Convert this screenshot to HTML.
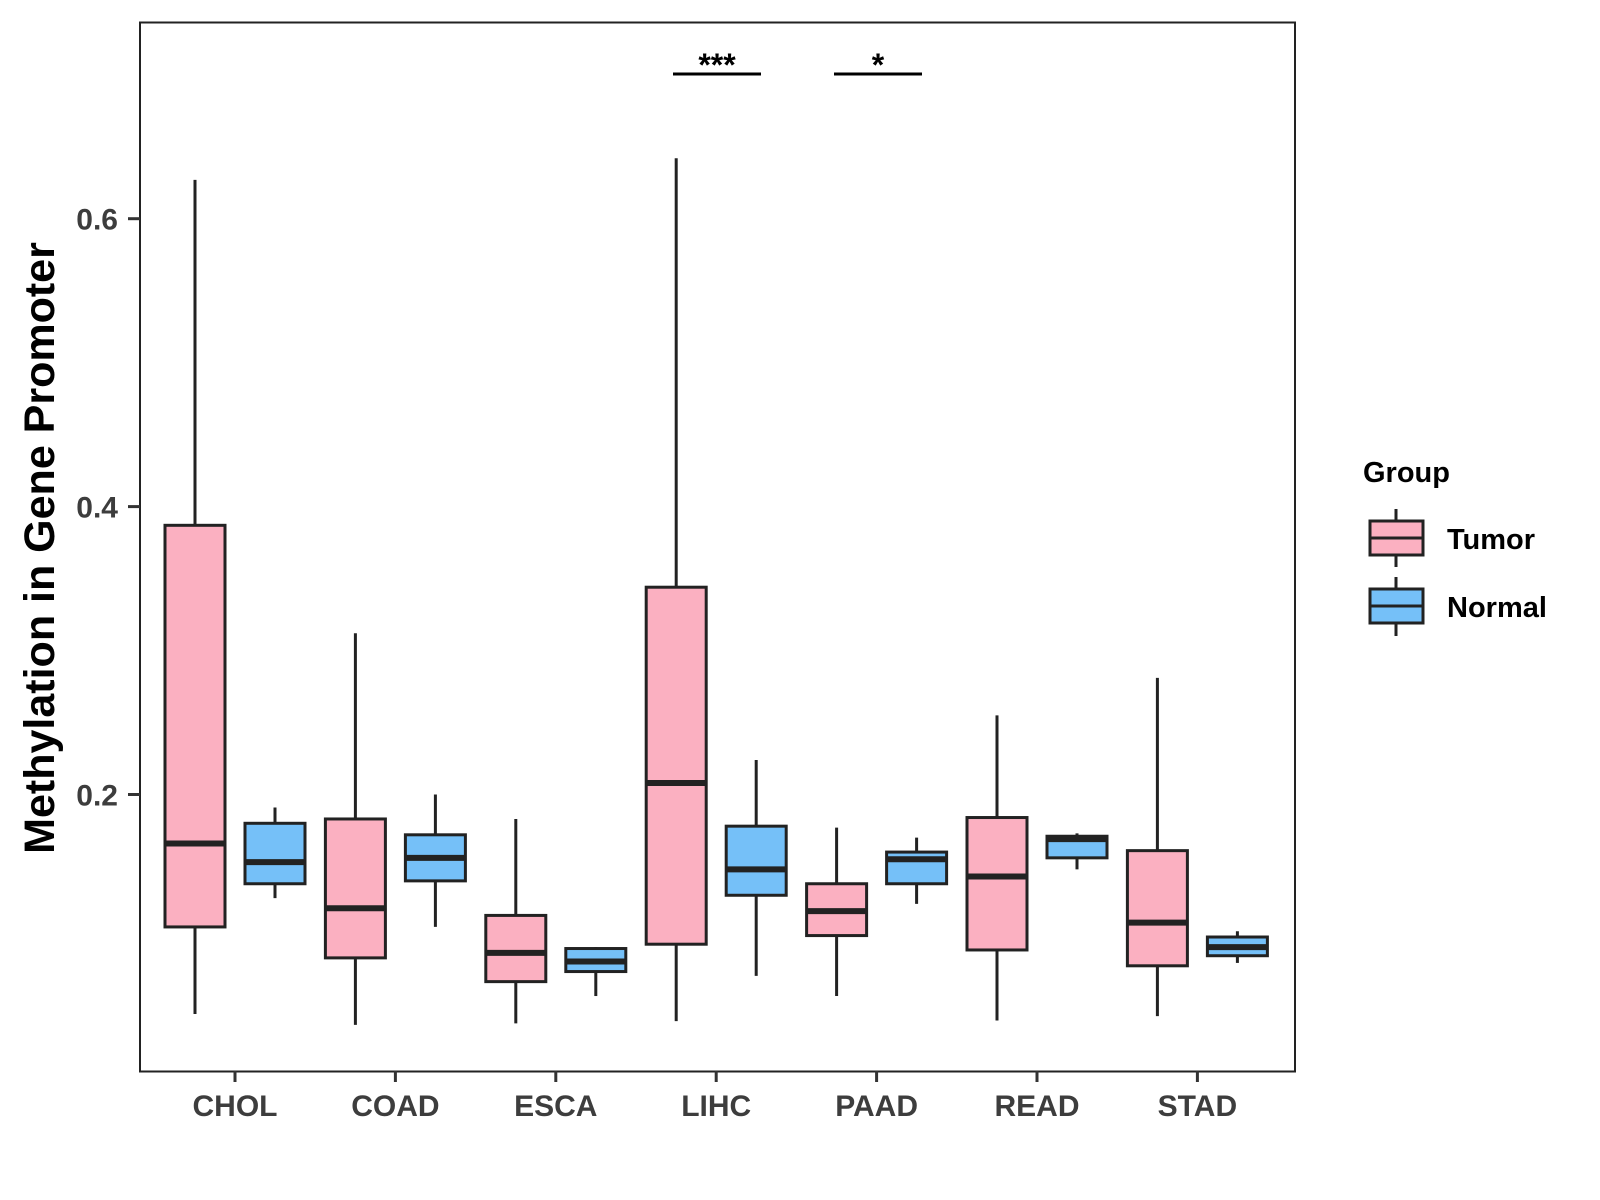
<!DOCTYPE html>
<html><head><meta charset="utf-8"><style>
html,body{margin:0;padding:0;background:#fff;}
svg{display:block;font-family:"Liberation Sans",sans-serif;}
</style></head><body>
<svg id="chart" width="1600" height="1200">
<rect x="140" y="22.5" width="1155" height="1049" fill="#fff" stroke="#222" stroke-width="2"/>
<g id="marks"></g>
<g id="axes"></g>
<text transform="translate(54,548) rotate(-90)" text-anchor="middle" font-size="43" font-weight="bold" fill="#000">Methylation in Gene Promoter</text>
<g>
<line x1="673" x2="761" y1="74" y2="74" stroke="#000" stroke-width="3"/>
<text x="717" y="76" text-anchor="middle" font-size="32" font-weight="bold">***</text>
</g>
<g>
<line x1="834" x2="922" y1="74" y2="74" stroke="#000" stroke-width="3"/>
<text x="878" y="76" text-anchor="middle" font-size="32" font-weight="bold">*</text>
</g>
<g>
<text x="1363" y="482" font-size="29" font-weight="bold">Group</text>
<g>
<line x1="1396" x2="1396" y1="509" y2="567" stroke="#222" stroke-width="3"/>
<rect x="1370" y="521" width="53" height="34" fill="#fbb0c1" stroke="#222" stroke-width="3"/>
<line x1="1370" x2="1423" y1="538" y2="538" stroke="#222" stroke-width="3"/>
<text x="1447" y="549" font-size="29" font-weight="bold">Tumor</text>
</g>
<g>
<line x1="1396" x2="1396" y1="577" y2="636" stroke="#222" stroke-width="3"/>
<rect x="1370" y="589" width="53" height="34" fill="#75c0f8" stroke="#222" stroke-width="3"/>
<line x1="1370" x2="1423" y1="606" y2="606" stroke="#222" stroke-width="3"/>
<text x="1447" y="617" font-size="29" font-weight="bold">Normal</text>
</g>
</g>
</svg>
<script>
const categories = ["CHOL","COAD","ESCA","LIHC","PAAD","READ","STAD"];
// [lowWhisker, Q1, median, Q3, highWhisker]
const tumorStats = [
 [0.0475,0.108,0.166,0.387,0.627],
 [0.040,0.0865,0.121,0.183,0.312],
 [0.041,0.070,0.090,0.116,0.183],
 [0.0426,0.096,0.208,0.344,0.642],
 [0.060,0.102,0.119,0.138,0.177],
 [0.043,0.092,0.143,0.184,0.255],
 [0.046,0.081,0.111,0.161,0.281]
];
const normalStats = [
 [0.128,0.138,0.153,0.180,0.191],
 [0.108,0.140,0.156,0.172,0.200],
 [0.060,0.077,0.084,0.093,0.094],
 [0.074,0.130,0.148,0.178,0.224],
 [0.124,0.138,0.155,0.160,0.170],
 [0.148,0.156,0.169,0.171,0.173],
 [0.083,0.088,0.094,0.101,0.105]
];
const yTicks = [0.2,0.4,0.6];
const yTickLabels = ["0.2","0.4","0.6"];

const NS="http://www.w3.org/2000/svg";
function y(v){return 794.5-(v-0.2)*1439.5;}
function x(i){return 235+i*160.4;}
function mk(tag,attrs,parent){const e=document.createElementNS(NS,tag);for(const k in attrs)e.setAttribute(k,attrs[k]);parent.appendChild(e);return e;}
const marks=document.getElementById('marks'), axes=document.getElementById('axes');
function drawBox(s,cx,fill,name){
  const g=mk('g',{},marks);
  
  
  const w=60;
  mk('line',{x1:cx,x2:cx,y1:y(s[0]),y2:y(s[4]),stroke:'#222','stroke-width':3},g);
  mk('rect',{x:cx-w/2,y:y(s[3]),width:w,height:y(s[1])-y(s[3]),fill:fill,stroke:'#222','stroke-width':3},g);
  mk('line',{x1:cx-w/2,x2:cx+w/2,y1:y(s[2]),y2:y(s[2]),stroke:'#222','stroke-width':6},g);
}
categories.forEach((c,i)=>{
  drawBox(tumorStats[i],x(i)-40,'#fbb0c1','box-tumor-'+c.toLowerCase());
  drawBox(normalStats[i],x(i)+40,'#75c0f8','box-normal-'+c.toLowerCase());
  mk('line',{x1:x(i),x2:x(i),y1:1071,y2:1082,stroke:'#333','stroke-width':3},axes);
  const t=mk('text',{x:x(i),y:1116,'text-anchor':'middle','font-size':30,'font-weight':'bold',fill:'#3d3d3d'},axes);
  
  
  t.textContent=c;
});
yTicks.forEach((v,i)=>{
  mk('line',{x1:128,x2:140,y1:y(v),y2:y(v),stroke:'#333','stroke-width':3},axes);
  const t=mk('text',{x:118,y:y(v)+11,'text-anchor':'end','font-size':30,'font-weight':'bold',fill:'#3d3d3d'},axes);
  
  
  t.textContent=yTickLabels[i];
});
</script>
</body></html>
